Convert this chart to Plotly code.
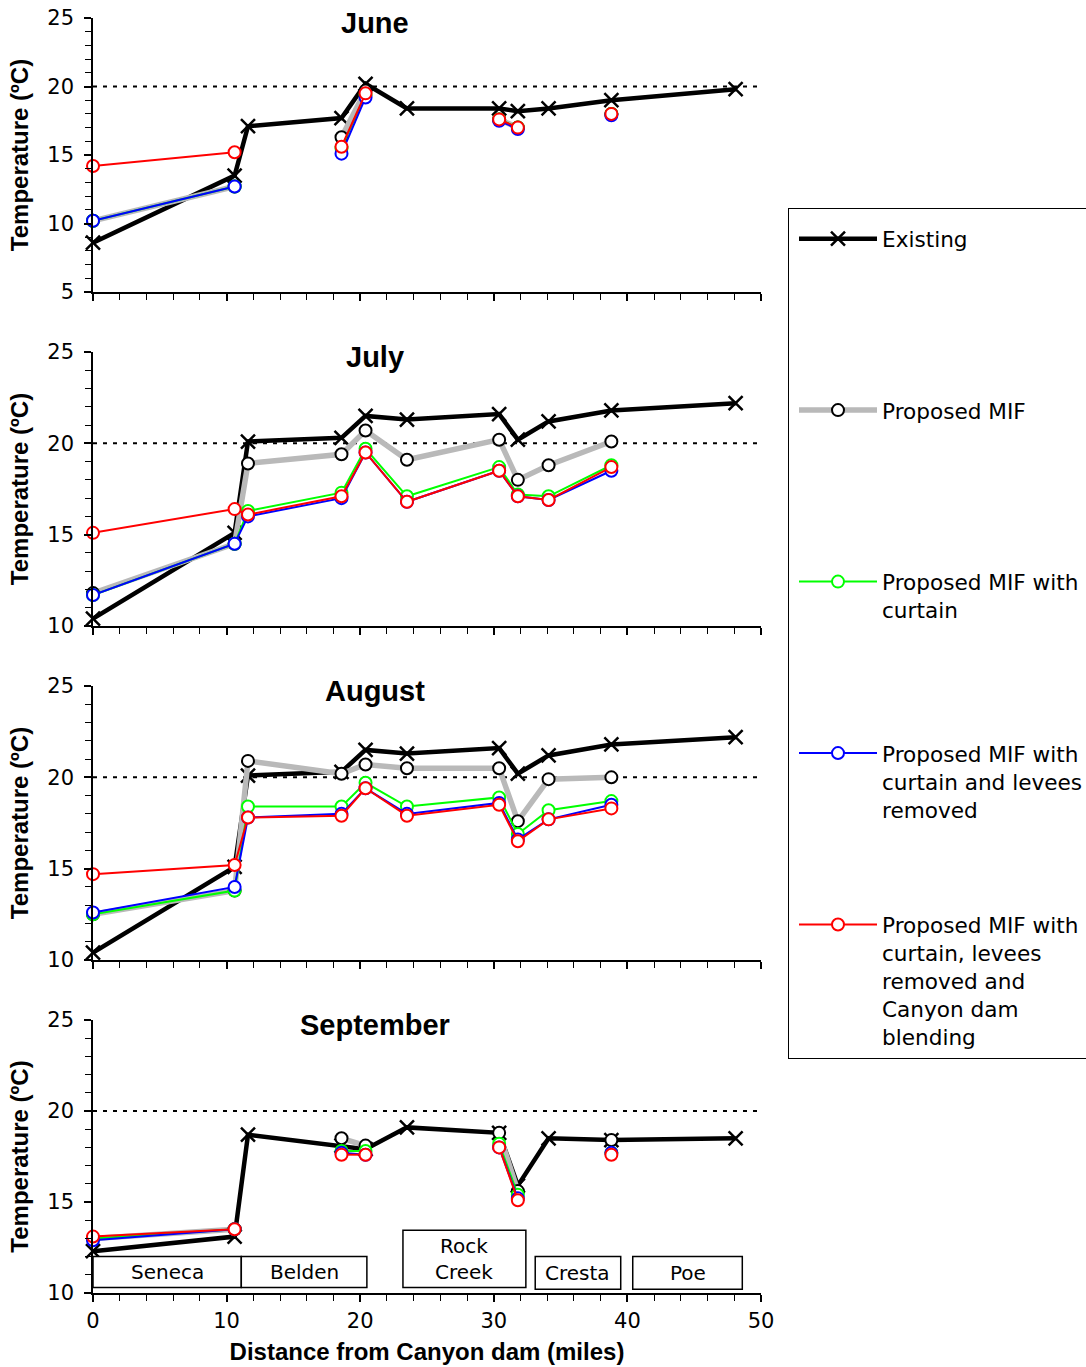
import plotly.graph_objects as go

# River mile of each monitoring station (distance below Canyon dam)
MILES = [0.0, 10.6, 11.6, 18.6, 20.4, 23.5, 30.4, 31.8, 34.1, 38.8, 48.1]

MONTHS = ["June", "July", "August", "September"]
SCENARIOS = [
    "Existing",
    "Proposed MIF",
    "Proposed MIF with<br>curtain",
    "Proposed MIF with<br>curtain and levees<br>removed",
    "Proposed MIF with<br>curtain, levees<br>removed and<br>Canyon dam<br>blending",
]

# Mean daily water temperature (ºC) per station; None = not simulated
june_existing = [8.6, 13.5, 17.1, 17.7, 20.2, 18.4, 18.4, 18.2, 18.4, 19.0, 19.8]
june_mif = [10.2, 12.7, None, 16.3, 19.7, None, 17.6, 17.0, None, 18.0, None]
june_curtain = [10.2, 12.7, None, 15.5, 19.4, None, 17.6, 17.0, None, 18.0, None]
june_levees = [10.2, 12.7, None, 15.1, 19.2, None, 17.5, 16.9, None, 17.9, None]
june_blending = [14.2, 15.2, None, 15.6, 19.5, None, 17.6, 17.0, None, 18.0, None]

july_existing = [10.4, 15.1, 20.1, 20.3, 21.5, 21.3, 21.6, 20.2, 21.2, 21.8, 22.2]
july_mif = [11.8, 14.5, 18.9, 19.4, 20.7, 19.1, 20.2, 18.0, 18.8, 20.1, None]
july_curtain = [11.7, 14.5, 16.3, 17.3, 19.7, 17.1, 18.7, 17.2, 17.1, 18.8, None]
july_levees = [11.7, 14.5, 16.0, 17.0, 19.5, 16.8, 18.5, 17.1, 16.9, 18.5, None]
july_blending = [15.1, 16.4, 16.1, 17.1, 19.5, 16.8, 18.5, 17.1, 16.9, 18.7, None]

august_existing = [10.4, 15.1, 20.1, 20.3, 21.5, 21.3, 21.6, 20.2, 21.2, 21.8, 22.2]
august_mif = [12.5, 13.8, 20.9, 20.2, 20.7, 20.5, 20.5, 17.6, 19.9, 20.0, None]
august_curtain = [12.5, 13.8, 18.4, 18.4, 19.7, 18.4, 18.9, 16.9, 18.2, 18.7, None]
august_levees = [12.6, 14.0, 17.8, 18.0, 19.4, 18.0, 18.6, 16.6, 17.7, 18.5, None]
august_blending = [14.7, 15.2, 17.8, 17.9, 19.4, 17.9, 18.5, 16.5, 17.7, 18.3, None]

september_existing = [12.3, 13.1, 18.7, 18.1, 17.9, 19.1, 18.8, 15.9, 18.5, 18.4, 18.5]
september_mif = [13.0, 13.5, None, 18.5, 18.1, None, 18.8, 15.6, None, 18.4, None]
september_curtain = [13.0, 13.5, None, 17.8, 17.8, None, 18.2, 15.4, None, 17.7, None]
september_levees = [12.9, 13.5, None, 17.7, 17.6, None, 18.0, 15.2, None, 17.7, None]
september_blending = [13.1, 13.5, None, 17.6, 17.6, None, 18.0, 15.1, None, 17.6, None]

MONTH_SERIES = [
    [june_existing, june_mif, june_curtain, june_levees, june_blending],
    [july_existing, july_mif, july_curtain, july_levees, july_blending],
    [august_existing, august_mif, august_curtain, august_levees, august_blending],
    [september_existing, september_mif, september_curtain, september_levees, september_blending],
]

Y_MIN = [5, 10, 10, 10]
Y_MAX = 25
X_TICKS = [0, 10, 20, 30, 40, 50]
THRESHOLD = 20  # ºC reference temperature

# Reaches drawn as labelled boxes along the bottom panel
REACH_NAMES = ["Seneca", "Belden", "Rock<br>Creek", "Cresta", "Poe"]
REACH_START = [0.0, 11.1, 23.2, 33.1, 40.4]
REACH_END = [11.1, 20.5, 32.4, 39.5, 48.6]
REACH_TOP = [12.0, 12.0, 13.45, 12.0, 12.0]
REACH_BOTTOM = [10.3, 10.3, 10.3, 10.2, 10.2]

# ---- styling ----
STYLES = [
    dict(line=dict(color="black", width=4.5),
         marker=dict(symbol="x-thin", size=14, color="black",
                     line=dict(color="black", width=2.5))),
    dict(line=dict(color="rgb(185,185,185)", width=5.5),
         marker=dict(symbol="circle", size=12, color="white",
                     line=dict(color="black", width=2))),
    dict(line=dict(color="rgb(0,255,0)", width=2),
         marker=dict(symbol="circle", size=12, color="white",
                     line=dict(color="rgb(0,255,0)", width=2))),
    dict(line=dict(color="rgb(0,0,255)", width=2),
         marker=dict(symbol="circle", size=12, color="white",
                     line=dict(color="rgb(0,0,255)", width=2))),
    dict(line=dict(color="rgb(255,0,0)", width=2),
         marker=dict(symbol="circle", size=12, color="white",
                     line=dict(color="rgb(255,0,0)", width=2))),
]

W, H = 1086, 1367
ML, MR, MT, MB = 93, 325, 18, 74
PLOT_H = H - MT - MB
# panel tops / bottoms in pixels from the top of the page
PANEL_TOP = [18, 352, 686, 1020]
PANEL_BOT = [292, 626, 960, 1293]

REG = "DejaVu Sans"
BOLD = "Liberation Sans"

fig = go.Figure()

# legend padding: every entry takes the same number of text lines
LEGEND_LINES = 6


def legend_label(name, last):
    n = name.count("<br>") + 1
    if last:
        return name
    return name + "<br>\u00a0" * (LEGEND_LINES - n)


for p, series in enumerate(MONTH_SERIES):
    xa = "x" if p == 0 else f"x{p + 1}"
    ya = "y" if p == 0 else f"y{p + 1}"
    for s, vals in enumerate(series):
        fig.add_trace(go.Scatter(
            x=MILES, y=vals, xaxis=xa, yaxis=ya,
            mode="lines+markers", connectgaps=False,
            name=legend_label(SCENARIOS[s], s == len(SCENARIOS) - 1),
            legendgroup=f"g{s}", showlegend=(p == 0),
            cliponaxis=False,
            **STYLES[s],
        ))

layout_axes = {}
for p in range(4):
    sfx = "" if p == 0 else str(p + 1)
    dom = [(H - MB - PANEL_BOT[p]) / PLOT_H, (H - MB - PANEL_TOP[p]) / PLOT_H]
    last = p == 3
    layout_axes[f"xaxis{sfx}"] = dict(
        domain=[0, 1], anchor=f"y{sfx}", range=[0, 50],
        tickvals=X_TICKS, showticklabels=last,
        ticks="outside", ticklen=7, tickwidth=1.5, tickcolor="black",
        minor=dict(dtick=2, tick0=0, ticks="outside", ticklen=6,
                   tickwidth=1.2, tickcolor="black", showgrid=False),
        showline=True, linecolor="black", linewidth=1.5,
        showgrid=False, zeroline=False,
        tickfont=dict(family=REG, size=21, color="black"),
        ticklabelstandoff=1,
        title=dict(text="<b>Distance from Canyon dam (miles)</b>" if last else "",
                   font=dict(family=BOLD, size=24, color="black"), standoff=11),
    )
    layout_axes[f"yaxis{sfx}"] = dict(
        domain=dom, anchor=f"x{sfx}", range=[Y_MIN[p], Y_MAX],
        dtick=5, tick0=0,
        ticks="outside", ticklen=7, tickwidth=1.5, tickcolor="black",
        minor=dict(dtick=1, tick0=0, ticks="outside", ticklen=6,
                   tickwidth=1.2, tickcolor="black", showgrid=False),
        showline=True, linecolor="black", linewidth=1.5,
        showgrid=False, zeroline=False,
        tickfont=dict(family=REG, size=21, color="black"),
        ticklabelstandoff=6,
        title=dict(text="<b>Temperature (ºC)</b>",
                   font=dict(family=BOLD, size=24, color="black"), standoff=12),
    )
    # companion axes draw the inner half of each major tick
    layout_axes[f"xaxis{p + 5}"] = dict(
        overlaying=f"x{sfx}", matches=f"x{sfx}", anchor=f"y{sfx}",
        tickvals=X_TICKS, ticks="inside", ticklen=7, tickwidth=1.5,
        tickcolor="black", showticklabels=False, showline=False,
        showgrid=False, zeroline=False,
    )
    layout_axes[f"yaxis{p + 5}"] = dict(
        overlaying=f"y{sfx}", matches=f"y{sfx}", anchor=f"x{sfx}",
        dtick=5, tick0=0, ticks="inside", ticklen=7, tickwidth=1.5,
        tickcolor="black", showticklabels=False, showline=False,
        showgrid=False, zeroline=False,
    )

fig.update_layout(**layout_axes)

shapes = []
annotations = []
for p, month in enumerate(MONTHS):
    sfx = "" if p == 0 else str(p + 1)
    shapes.append(dict(
        type="line", xref=f"x{sfx} domain", yref=f"y{sfx}",
        x0=0, x1=1, y0=THRESHOLD, y1=THRESHOLD,
        line=dict(color="black", width=2, dash="4px,6px"), layer="below",
    ))
    annotations.append(dict(
        text=f"<b>{month}</b>", xref="paper", yref=f"y{sfx} domain",
        x=0.422, y=1, xanchor="center", yanchor="middle", yshift=-5,
        showarrow=False, font=dict(family=BOLD, size=29, color="black"),
    ))

for name, x0, x1, y0, y1 in zip(REACH_NAMES, REACH_START, REACH_END,
                                REACH_BOTTOM, REACH_TOP):
    shapes.append(dict(
        type="rect", xref="x4", yref="y4", x0=x0, x1=x1, y0=y0, y1=y1,
        line=dict(color="black", width=1.5), fillcolor="white", layer="above",
    ))
    annotations.append(dict(
        text=name, xref="x4", yref="y4", x=(x0 + x1) / 2, y=(y0 + y1) / 2,
        xanchor="center", yanchor="middle", showarrow=False,
        font=dict(family=REG, size=20, color="black"),
    ))

fig.update_layout(
    width=W, height=H,
    margin=dict(l=ML, r=MR, t=MT, b=MB, autoexpand=False),
    paper_bgcolor="white", plot_bgcolor="white",
    shapes=shapes, annotations=annotations,
    showlegend=True,
    legend=dict(
        x=(788 - ML) / (W - ML - MR), y=(H - MB - 208) / PLOT_H,
        xanchor="left", yanchor="top",
        bordercolor="black", borderwidth=1, bgcolor="white",
        font=dict(family=REG, size=21.6, color="black"),
        title=dict(text="\u00a0", font=dict(family=REG, size=7)),
        valign="top", itemwidth=78, tracegroupgap=0, indentation=5,
        itemclick=False, itemdoubleclick=False,
    ),
)

fig.write_html("out.html", config=dict(displayModeBar=False))
